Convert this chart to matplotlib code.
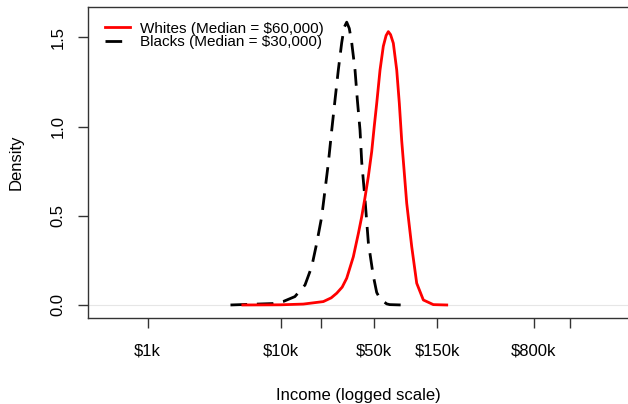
import matplotlib
matplotlib.use("Agg")
import matplotlib.pyplot as plt

# income in $1000s, density of logged income
black_income = [4.2, 8.8, 10.5, 12.8, 15.25, 17.13, 18.67, 20.36, 21.56, 22.82, 24.21,
                25.63, 27.13, 28.77, 30.0, 31.37, 32.8, 34.21, 36.22, 37.7, 39.5, 40.68,
                43.08, 45.61, 49.5, 52.7, 55.8, 62.7, 66.0, 81.3]
black_density = [0.0, 0.008, 0.02, 0.047, 0.112, 0.215, 0.346, 0.495, 0.645, 0.794, 0.98,
                 1.15, 1.317, 1.47, 1.555, 1.585, 1.55, 1.47, 1.317, 1.15, 0.98, 0.80,
                 0.589, 0.35, 0.17, 0.07, 0.035, 0.006, 0.002, 0.0]

white_income = [5.2, 10.0, 14.8, 20.93, 24.0, 26.4, 29.0, 31.37, 35.17, 38.36, 40.68,
                43.0, 45.61, 48.35, 50.5, 52.72, 55.83, 59.09, 62.0, 64.44, 67.0, 70.27,
                74.52, 77.95, 81.25, 84.55, 88.59, 96.6, 105.3, 118.1, 140.4, 177.0]
white_density = [0.0, 0.001, 0.005, 0.019, 0.04, 0.066, 0.10, 0.15, 0.27, 0.40, 0.495,
                 0.60, 0.72, 0.86, 1.0, 1.13, 1.317, 1.45, 1.51, 1.532, 1.515, 1.467,
                 1.317, 1.13, 0.92, 0.76, 0.57, 0.327, 0.122, 0.028, 0.002, 0.0]

tick_values = [1, 10, 20, 50, 150, 800, 1500]
tick_labels = ["$1k", "$10k", "", "$50k", "$150k", "$800k", ""]
legend_labels = ["Whites (Median = $60,000)", "Blacks (Median = $30,000)"]

plt.rcParams["font.family"] = ["Liberation Sans", "DejaVu Sans"]

fig = plt.figure(figsize=(6.28, 4.04), dpi=100)
ax = fig.add_axes([88 / 628, 86 / 404, 1 - 88 / 628, 311 / 404])

ax.axhline(0, color="#e6e6e6", lw=0.8, zorder=1)
ax.plot(white_income, white_density, color="#ff0000", lw=2, label=legend_labels[0], zorder=3)
ax.plot(black_income, black_density, color="black", lw=2, ls=(0, (6, 3.5)),
        label=legend_labels[1], zorder=2)

ax.set_xscale("log")
ax.set_xlim(0.357, 4074)
ax.set_ylim(-0.073, 1.670)
ax.set_xticks(tick_values)
ax.set_xticklabels(tick_labels)
ax.minorticks_off()
ax.set_yticks([0, 0.5, 1.0, 1.5])
ax.set_yticklabels(["0.0", "0.5", "1.0", "1.5"], rotation=90, va="center")

ax.tick_params(axis="both", labelsize=12, length=7.5, width=1, color="#333333")
ax.tick_params(axis="x", pad=11)
ax.tick_params(axis="y", pad=8.5)
ax.spines["right"].set_visible(False)
for s in ["left", "bottom", "top"]:
    ax.spines[s].set_linewidth(1)
    ax.spines[s].set_color("#333333")

ax.set_xlabel("Income (logged scale)", fontsize=12, labelpad=21)
ax.set_ylabel("Density", fontsize=12, labelpad=19.5)

ax.legend(loc="upper left", frameon=False, fontsize=11, handlelength=1.64,
          handletextpad=0.65, labelspacing=-0.01, borderaxespad=0.0,
          bbox_to_anchor=(0.0196, 0.973))

fig.savefig("out.png", dpi=100)
